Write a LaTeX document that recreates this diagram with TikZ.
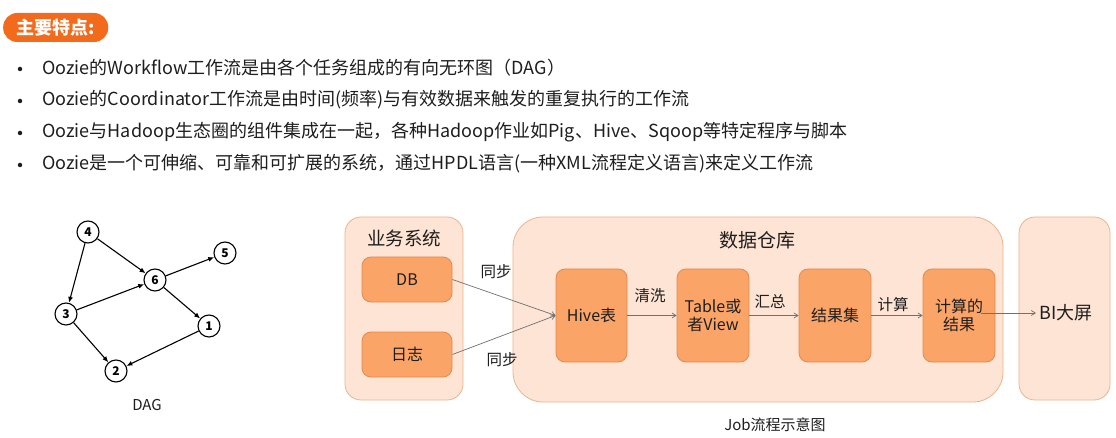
\documentclass[tikz,border=0pt]{standalone}
\usepackage{fontspec}
\setmainfont{Noto Sans CJK SC}
\usetikzlibrary{arrows.meta}
\definecolor{badge}{HTML}{F26A1B}
\definecolor{outerfill}{HTML}{FDE4D4}
\definecolor{outerdraw}{HTML}{EDB48C}
\definecolor{innerfill}{HTML}{FBA468}
\definecolor{innerdraw}{HTML}{E48A4E}
\definecolor{txt}{HTML}{1E1E1E}
\definecolor{flow}{HTML}{707070}
\tikzset{
  outerbox/.style={draw=outerdraw, fill=outerfill, line width=0.8pt, rounded corners=16pt},
  innerbox/.style={draw=innerdraw, fill=innerfill, line width=0.8pt, rounded corners=9pt, align=center, font=\fontsize{16}{18}\selectfont, text=txt},
  dagnode/.style={circle, draw=black, line width=1.1pt, fill=white, minimum size=22pt, inner sep=0pt, font=\fontsize{12}{12}\selectfont\bfseries},
  dagedge/.style={-{Latex[length=6pt,width=5pt]}, line width=1.1pt},
  flowarrow/.style={-{Straight Barb[length=4pt,width=5pt]}, draw=flow, line width=0.7pt},
  bullettext/.style={anchor=west, font=\fontsize{18}{21}\selectfont, text=txt, inner sep=0pt},
  bulletdot/.style={circle, fill=txt, inner sep=0pt, minimum size=4.5pt},
  lbl/.style={font=\fontsize{15.5}{17}\selectfont, text=txt, inner sep=0pt},
}
\begin{document}
\begin{tikzpicture}[x=1pt,y=-1pt]
\useasboundingbox[fill=white] (0,0) rectangle (1116,438);
% title badge
\node[fill=badge, rounded corners=14pt, minimum width=105pt, minimum height=29pt, text=white, font=\fontsize{18}{20}\selectfont\bfseries, anchor=west, inner sep=0pt] (badge) at (3,27.5) {主要特点:};
% bullets
\foreach \y/\t [count=\i] in {68/{Oozie的Workflow工作流是由各个任务组成的有向无环图（DAG）},
  100/{Oozie的Coordinator工作流是由时间(频率)与有效数据来触发的重复执行的工作流},
  132/{Oozie与Hadoop生态圈的组件集成在一起，各种Hadoop作业如Pig、Hive、Sqoop等特定程序与脚本},
  164/{Oozie是一个可伸缩、可靠和可扩展的系统，通过HPDL语言(一种XML流程定义语言)来定义工作流}}{
  \node[bulletdot] (bd\i) at (20,\y+1) {};
  \node[bullettext] (bt\i) at (42,\y) {\t};
}
% DAG
\node[dagnode] (n4) at (88,232) {4};
\node[dagnode] (n5) at (225,253) {5};
\node[dagnode] (n6) at (155,280) {6};
\node[dagnode] (n3) at (66,314) {3};
\node[dagnode] (n1) at (209,326) {1};
\node[dagnode] (n2) at (116,371) {2};
\draw[dagedge] (n4) -- (n3);
\draw[dagedge] (n4) -- (n6);
\draw[dagedge] (n3) -- (n6);
\draw[dagedge] (n3) -- (n2);
\draw[dagedge] (n6) -- (n5);
\draw[dagedge] (n6) -- (n1);
\draw[dagedge] (n1) -- (n2);
\node[lbl, font=\fontsize{15}{17}\selectfont] (daglbl) at (147,405) {DAG};
% business system
\draw[outerbox] (345,217) rectangle (463,400);
\node[font=\fontsize{18.5}{20}\selectfont, text=txt] (bizt) at (404,238) {业务系统};
\node[innerbox, minimum width=90pt, minimum height=45pt] (db) at (407,279.5) {DB};
\node[innerbox, minimum width=90pt, minimum height=45pt] (log) at (407,354.5) {日志};
% data warehouse
\draw[outerbox, rounded corners=30pt] (513,217) rectangle (1003,402);
\node[font=\fontsize{19}{21}\selectfont, text=txt] (dwt) at (757,240) {数据仓库};
\node[innerbox, minimum width=71pt, minimum height=93pt] (hive) at (591.5,315.5) {Hive表};
\node[innerbox, minimum width=72pt, minimum height=93pt] (tab) at (713,315.5) {Table或\\者View};
\node[innerbox, minimum width=72pt, minimum height=93pt] (res) at (835,315.5) {结果集};
\node[innerbox, minimum width=72pt, minimum height=93pt] (calc) at (959,315.5) {计算的\\结果};
% BI
\draw[outerbox] (1019,217) rectangle (1110,400);
\node[font=\fontsize{18}{20}\selectfont, text=txt] (bi) at (1066,313) {BI大屏};
% flows
\draw[flowarrow] (db.east) -- (hive.west);
\draw[flowarrow] (log.east) -- (hive.west);
\node[lbl] (s1) at (496,272) {同步};
\node[lbl] (s2) at (502,360) {同步};
\draw[flowarrow] (hive.east) -- (tab.west);
\node[lbl] (q) at (650,296) {清洗};
\draw[flowarrow] (tab.east) -- (res.west);
\node[lbl] (h) at (770,302) {汇总};
\draw[flowarrow] (res.east) -- (calc.west);
\node[lbl] (c) at (893,305) {计算};
\coordinate (cs) at (981,313);
\draw[flowarrow] (cs) -- (bi.west);
\node[lbl, font=\fontsize{15}{17}\selectfont] (job) at (775,425) {Job流程示意图};
\end{tikzpicture}
\end{document}
